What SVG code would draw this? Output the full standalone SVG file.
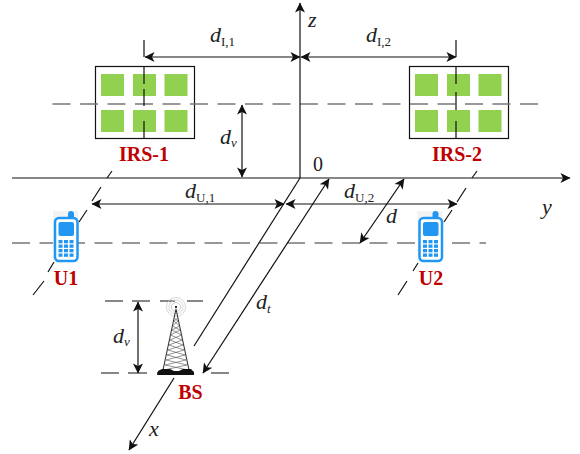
<svg xmlns="http://www.w3.org/2000/svg" width="580" height="454" viewBox="0 0 580 454">
<style>
.ln{stroke:#111;stroke-width:1.2;fill:none}
.dash{stroke:#777;stroke-width:1.3;fill:none;stroke-dasharray:18 9.5}
.dk{stroke:#111;stroke-width:1.2;fill:none}
.t{font-family:"Liberation Serif",serif;fill:#222}
.i{font-style:italic;font-size:22px}
.s{font-size:13px}
.v{font-style:italic;font-size:13px}
.lab{font-family:"Liberation Serif",serif;font-weight:bold;font-size:20px;fill:#c00000;text-anchor:middle}
.g{fill:#92d050}
.b{fill:#2196f3}
</style>
<defs>
<marker id="a" viewBox="0 0 10 10" refX="9.5" refY="5" markerWidth="12" markerHeight="10" markerUnits="userSpaceOnUse" orient="auto-start-reverse"><path d="M0 0L10 5L0 10L2.5 5Z" fill="#111"/></marker>
<g id="phone">
<rect x="-1" y="-6" width="25" height="51" fill="#f3f3f3"/>
<path d="M14 1V-3a3 3 0 0 1 6 0V1Z" class="b"/>
<rect x="1" y="1" width="22.500" height="43" rx="4" fill="#fff" stroke="#2196f3" stroke-width="2.500"/>
<rect x="4.500" y="5" width="15.500" height="14" rx="2" class="b"/>
<g class="b"><rect x="4.500" y="23" width="4" height="3.300"/><rect x="10" y="23" width="4" height="3.300"/><rect x="15.500" y="23" width="4" height="3.300"/><rect x="4.500" y="27.500" width="4" height="3.300"/><rect x="10" y="27.500" width="4" height="3.300"/><rect x="15.500" y="27.500" width="4" height="3.300"/><rect x="4.500" y="32" width="4" height="3.300"/><rect x="10" y="32" width="4" height="3.300"/><rect x="15.500" y="32" width="4" height="3.300"/><rect x="4.500" y="36.500" width="4" height="3.300"/><rect x="10" y="36.500" width="4" height="3.300"/><rect x="15.500" y="36.500" width="4" height="3.300"/></g>
</g>
<g id="panel">
<rect x="0.500" y="0.500" width="99" height="72" fill="#fff" stroke="#111" stroke-width="1.200"/>
<rect x="6" y="8" width="23" height="22" class="g"/><rect x="38" y="8" width="23" height="22" class="g"/><rect x="69.500" y="8" width="23" height="22" class="g"/>
<rect x="6" y="44" width="23" height="22" class="g"/><rect x="38" y="44" width="23" height="22" class="g"/><rect x="69.500" y="44" width="23" height="22" class="g"/>
</g>
</defs>

<g id="irs-1"><use href="#panel" x="95" y="66"/><text class="lab" x="144" y="161">IRS-1</text></g>
<g id="irs-2"><use href="#panel" x="409" y="66"/><text class="lab" x="457" y="161">IRS-2</text></g>

<g id="connectors">
<path class="dash" d="M52.500 104H540"/>
<path class="dash" d="M12 243H486"/>
<path class="ln" d="M300 178V3" marker-end="url(#a)"/>
<path class="ln" d="M12 178H570" marker-end="url(#a)"/>
<path class="ln" d="M300 178L194 346"/>
<path class="ln" d="M174 378L129 450" marker-end="url(#a)"/>
<path class="ln" d="M203 373L329 179" marker-start="url(#a)" marker-end="url(#a)"/>
<path class="ln" d="M360 243L404 179" marker-start="url(#a)" marker-end="url(#a)"/>
<path class="ln" d="M145 57H300" marker-start="url(#a)" marker-end="url(#a)"/>
<path class="ln" d="M301 57H456" marker-start="url(#a)" marker-end="url(#a)"/>
<path class="ln" d="M92 204H284" marker-start="url(#a)" marker-end="url(#a)"/>
<path class="ln" d="M286 204H457" marker-start="url(#a)" marker-end="url(#a)"/>
<path class="ln" d="M242 105V177" marker-start="url(#a)" marker-end="url(#a)"/>
<path class="ln" d="M138 302V373" marker-start="url(#a)" marker-end="url(#a)"/>
<path class="dk" d="M144 40V57M144 66V84M144 89V106M144 121V138"/>
<path class="dk" d="M456 40V57M456 66V84M456 92V110M456 121V138"/>
<path class="dk" d="M112 171L107 178M101 187L92 201M87 210L79 222M54 262L48 272M44 281L33 295"/>
<path class="dk" d="M477 171L472 178M466 188L457 202M452 210L444 222M418 263L413 271M407 281L398 295"/>
<path class="dk" d="M105 301H123M132 301H150M160 301H175M187 301H203"/>
<path class="dk" d="M101 373H119M128 373H147M157 373H194M211 373H229"/>
</g>

<g id="u1"><use href="#phone" x="54" y="217"/><text class="lab" x="66" y="285">U1</text></g>
<g id="u2"><use href="#phone" x="418.500" y="217"/><text class="lab" x="431" y="285">U2</text></g>

<g id="bs">
<circle cx="176" cy="307" r="9.500" fill="none" stroke="#ccc" stroke-width="0.800"/>
<circle cx="176" cy="307" r="7" fill="none" stroke="#ccc" stroke-width="0.800"/>
<circle cx="176" cy="307" r="4.500" fill="none" stroke="#bbb" stroke-width="0.800"/>
<circle cx="176" cy="307" r="1.200" fill="#333"/>
<path d="M176 309L163 370M176 309L189 370" stroke="#333" stroke-width="1.100" fill="none"/>
<path d="M174 318L178 321L172.500 326L180 330L170.500 335L182 340L169 345L184 350L167 355L186 360L165 365L188 370M178 318L174 321L179.500 326L172 330L181.500 335L170 340L183 345L168 350L185 355L166 360L187 365L164 370" stroke="#666" stroke-width="0.700" fill="none"/>
<path d="M157 375L158 371L162 369H170L174 371H179L183 369H191L194 372V375Z" fill="#111"/>
<text class="lab" x="190.500" y="399">BS</text>
</g>

<g id="labels">
<text class="t" x="210" y="42"><tspan class="i">d</tspan><tspan class="s" dy="4">I,1</tspan></text>
<text class="t" x="366" y="42"><tspan class="i">d</tspan><tspan class="s" dy="4">I,2</tspan></text>
<text class="t" x="185" y="198"><tspan class="i">d</tspan><tspan class="s" dy="4">U,1</tspan></text>
<text class="t" x="344" y="198"><tspan class="i">d</tspan><tspan class="s" dy="4">U,2</tspan></text>
<text class="t" x="220" y="144"><tspan class="i">d</tspan><tspan class="v" dy="3">v</tspan></text>
<text class="t" x="113" y="343"><tspan class="i">d</tspan><tspan class="v" dy="3">v</tspan></text>
<text class="t" x="256" y="309"><tspan class="i">d</tspan><tspan class="v" dy="4">t</tspan></text>
<text class="t i" x="386" y="223">d</text>
<text class="t i" x="308" y="27">z</text>
<text class="t i" x="542" y="214">y</text>
<text class="t i" x="149" y="436">x</text>
<text class="t" x="313" y="171" font-size="20">0</text>
</g>
</svg>
